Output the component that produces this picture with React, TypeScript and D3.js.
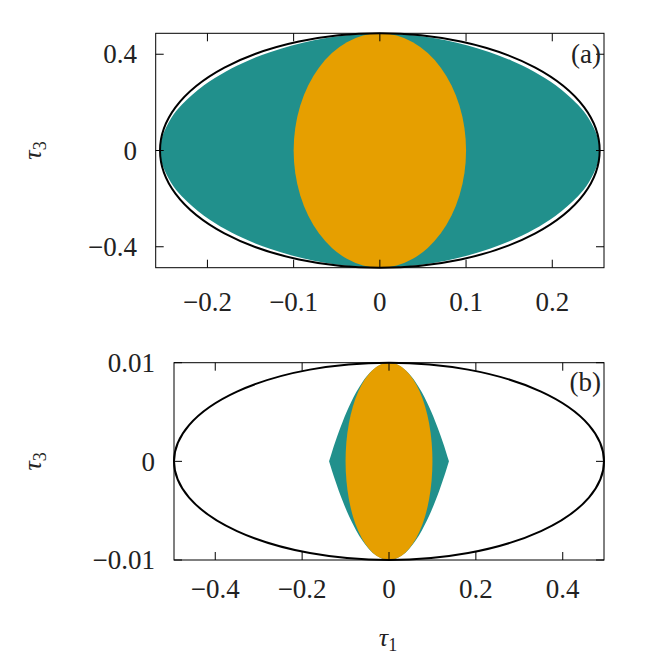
import React from "react";
import * as d3 from "d3";

// ---------- data ----------
// Panel (a)
const aXDomain = [-0.26, 0.26];
const aYDomain = [-0.487, 0.487];
const aXTicks = [-0.2, -0.1, 0, 0.1, 0.2];
const aXTickLabels = ["−0.2", "−0.1", "0", "0.1", "0.2"];
const aYTicks = [-0.4, 0, 0.4];
const aYTickLabels = ["−0.4", "0", "0.4"];
const aOuterEllipse = [0.255, 0.487]; // semi-axes (τ1, τ3)
const aInnerEllipse = [0.1, 0.487];
// teal region boundary, upper-right quadrant (τ1, τ3)
const aTealQ1: [number, number][] = [
  [0, 0.487], [0.0255, 0.4833], [0.051, 0.4734], [0.0765, 0.4579],
  [0.102, 0.4365], [0.1275, 0.4086], [0.153, 0.3733], [0.1785, 0.3287],
  [0.204, 0.2711], [0.2295, 0.1911], [0.2423, 0.133], [0.2525, 0.0562],
  [0.255, 0],
];

// Panel (b)
const bXDomain = [-0.495, 0.495];
const bYDomain = [-0.01, 0.01];
const bXTicks = [-0.4, -0.2, 0, 0.2, 0.4];
const bXTickLabels = ["−0.4", "−0.2", "0", "0.2", "0.4"];
const bYTicks = [-0.01, 0, 0.01];
const bYTickLabels = ["−0.01", "0", "0.01"];
const bOuterEllipse = [0.495, 0.01];
const bInnerEllipse = [0.1, 0.01];
const bTealQ1: [number, number][] = [
  [0, 0.01], [0.0138, 0.0099], [0.0309, 0.0095], [0.0436, 0.009],
  [0.0617, 0.008], [0.0756, 0.007], [0.0873, 0.006], [0.0976, 0.005],
  [0.1069, 0.004], [0.1155, 0.003], [0.1234, 0.002], [0.1309, 0.001],
  [0.138, 0],
];

const TEAL = "#21908c";
const ORANGE = "#e69f00";
const FONT = "'Liberation Serif', 'Times New Roman', serif";
const FS = 27;

function loopFromQ1(q: [number, number][]): [number, number][] {
  const q4 = q.slice().reverse().map(([x, y]) => [x, -y] as [number, number]).slice(1);
  const q3 = q.map(([x, y]) => [-x, -y] as [number, number]).slice(1);
  const q2 = q.slice().reverse().map(([x, y]) => [-x, y] as [number, number]).slice(1, -1);
  return [...q, ...q4, ...q3, ...q2];
}

type PanelProps = {
  left: number; right: number; top: number; bottom: number;
  xDomain: number[]; yDomain: number[];
  xTicks: number[]; xTickLabels: string[];
  yTicks: number[]; yTickLabels: string[];
  outer: number[]; inner: number[];
  teal: [number, number][]; tealMode: "loop" | "area";
  tag: string; tagBaseline: number; xLabelBaseline: number; yLabelRight: number;
};

function Panel(p: PanelProps) {
  const x = d3.scaleLinear().domain(p.xDomain).range([p.left, p.right]);
  const y = d3.scaleLinear().domain(p.yDomain).range([p.bottom, p.top]);
  let tealPath = "";
  if (p.tealMode === "loop") {
    const pts = loopFromQ1(p.teal);
    tealPath = d3.line<[number, number]>()
      .x((d) => x(d[0])).y((d) => y(d[1]))
      .curve(d3.curveCatmullRomClosed.alpha(0.5))(pts) || "";
  } else {
    const half = [
      ...p.teal.slice().reverse().map(([a, b]) => [-a, b] as [number, number]),
      ...p.teal.slice(1),
    ];
    tealPath = d3.area<[number, number]>()
      .x((d) => x(d[0])).y0((d) => y(-d[1])).y1((d) => y(d[1]))
      .curve(d3.curveMonotoneX)(half) || "";
  }
  const cx = x(0), cy = y(0);
  const tl = 8;
  return (
    <g>
      <path d={tealPath} fill={TEAL} stroke="none" />
      <ellipse cx={cx} cy={cy} rx={x(p.inner[0]) - cx} ry={cy - y(p.inner[1])} fill={ORANGE} />
      <ellipse cx={cx} cy={cy} rx={x(p.outer[0]) - cx} ry={cy - y(p.outer[1])} fill="none" stroke="#000" strokeWidth={2} />
      <rect x={p.left} y={p.top} width={p.right - p.left} height={p.bottom - p.top} fill="none" stroke="#000" strokeWidth={1} />
      {p.xTicks.map((t, i) => (
        <g key={"x" + i}>
          <line x1={x(t)} x2={x(t)} y1={p.bottom} y2={p.bottom - tl} stroke="#000" strokeWidth={1} />
          <line x1={x(t)} x2={x(t)} y1={p.top} y2={p.top + tl} stroke="#000" strokeWidth={1} />
          <text x={x(t)} y={p.xLabelBaseline} textAnchor="middle" fontFamily={FONT} fontSize={FS} fill="#222">{p.xTickLabels[i]}</text>
        </g>
      ))}
      {p.yTicks.map((t, i) => (
        <g key={"y" + i}>
          <line x1={p.left} x2={p.left + tl} y1={y(t)} y2={y(t)} stroke="#000" strokeWidth={1} />
          <line x1={p.right} x2={p.right - tl} y1={y(t)} y2={y(t)} stroke="#000" strokeWidth={1} />
          <text x={p.yLabelRight} y={y(t)} dy="0.34em" textAnchor="end" fontFamily={FONT} fontSize={FS} fill="#222">{p.yTickLabels[i]}</text>
        </g>
      ))}
      <text x={p.right - 3} y={p.tagBaseline} textAnchor="end" fontFamily={FONT} fontSize={FS} fill="#222">{p.tag}</text>
      <text transform={`translate(41,${cy}) rotate(-90)`} textAnchor="middle" fontFamily={FONT} fontSize={26} fill="#222">
        <tspan fontStyle="italic">τ</tspan>
        <tspan fontSize={18} dy="5">3</tspan>
      </text>
    </g>
  );
}

export default function App() {
  return (
    <div style={{ position: "absolute", left: 0, top: 0 }}>
      <svg width={664} height={664} style={{ display: "block", background: "#fff" }}>
        <Panel left={155.7} right={604} top={33.3} bottom={267.7}
          xDomain={aXDomain} yDomain={aYDomain}
          xTicks={aXTicks} xTickLabels={aXTickLabels}
          yTicks={aYTicks} yTickLabels={aYTickLabels}
          outer={aOuterEllipse} inner={aInnerEllipse}
          teal={aTealQ1} tealMode="loop"
          tag="(a)" tagBaseline={63} xLabelBaseline={311} yLabelRight={137} />
        <Panel left={174} right={604} top={362.7} bottom={560}
          xDomain={bXDomain} yDomain={bYDomain}
          xTicks={bXTicks} xTickLabels={bXTickLabels}
          yTicks={bYTicks} yTickLabels={bYTickLabels}
          outer={bOuterEllipse} inner={bInnerEllipse}
          teal={bTealQ1} tealMode="area"
          tag="(b)" tagBaseline={391} xLabelBaseline={598} yLabelRight={155} />
        <text x={388} y={646} textAnchor="middle" fontFamily={FONT} fontSize={26} fill="#222">
          <tspan fontStyle="italic">τ</tspan>
          <tspan fontSize={18} dy="5">1</tspan>
        </text>
      </svg>
    </div>
  );
}
